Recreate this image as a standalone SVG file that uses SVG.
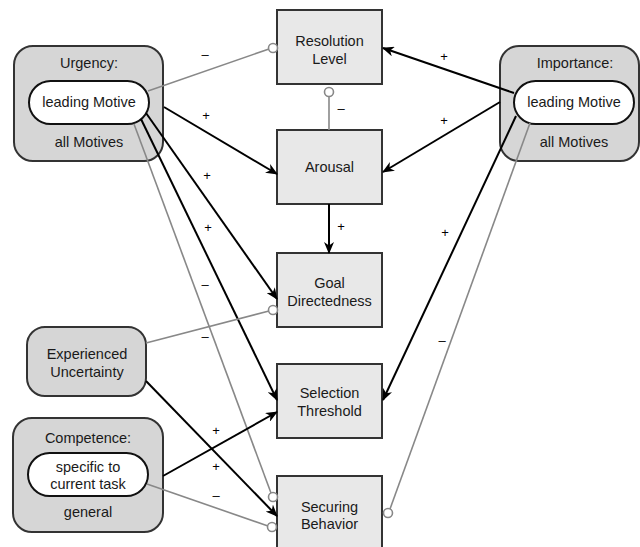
<svg xmlns="http://www.w3.org/2000/svg" width="640" height="547" viewBox="0 0 640 547">
<style>
text{font-family:"Liberation Sans",Arial,sans-serif;font-size:14.5px;fill:#1a1a1a;text-anchor:middle}
.box{fill:#e8e8e8;stroke:#333;stroke-width:2}
.grp{fill:#d6d6d6;stroke:#333;stroke-width:2}
.pill{fill:#fff;stroke:#111;stroke-width:2}
.pos{stroke:#000;stroke-width:2;fill:none;marker-end:url(#ah)}
.neg{stroke:#888;stroke-width:1.6;fill:none}
.dot{fill:#fff;stroke:#888;stroke-width:1.6}
.lbl{font-size:13px;fill:#000}
</style>
<defs>
<marker id="ah" viewBox="0 0 12 10" refX="11" refY="5" markerWidth="12" markerHeight="10" markerUnits="userSpaceOnUse" orient="auto">
<path d="M0,0 L12,5 L0,10 L3.5,5 z" fill="#000"/>
</marker>
</defs>
<g id="resolution">
<rect class="box" x="277" y="10" width="105" height="74"/>
<text x="329.5" y="46">Resolution</text>
<text x="329.5" y="64">Level</text>
</g>
<g id="arousal">
<rect class="box" x="277" y="130" width="105" height="74"/>
<text x="329.5" y="172">Arousal</text>
</g>
<g id="goal">
<rect class="box" x="277" y="253" width="105" height="74"/>
<text x="329.5" y="288">Goal</text>
<text x="329.5" y="306">Directedness</text>
</g>
<g id="selection">
<rect class="box" x="277" y="364" width="105" height="74"/>
<text x="329.5" y="398">Selection</text>
<text x="329.5" y="416">Threshold</text>
</g>
<g id="securing">
<rect class="box" x="277" y="476" width="105" height="74"/>
<text x="329.5" y="512">Securing</text>
<text x="329.5" y="529">Behavior</text>
</g>
<g id="urgency">
<rect class="grp" x="14" y="46" width="149" height="115" rx="19"/>
<text x="89" y="68">Urgency:</text>
<rect class="pill" x="29" y="81" width="120" height="43" rx="21.5"/>
<text x="89" y="107">leading Motive</text>
<text x="89" y="147">all Motives</text>
</g>
<g id="importance">
<rect class="grp" x="500" y="46" width="139" height="115" rx="19"/>
<text x="575" y="68">Importance:</text>
<rect class="pill" x="514" y="81" width="120" height="43" rx="21.5"/>
<text x="574" y="107">leading Motive</text>
<text x="574" y="147">all Motives</text>
</g>
<g id="uncertainty">
<rect class="grp" x="27" y="327" width="119" height="69" rx="18"/>
<text x="87" y="359">Experienced</text>
<text x="87" y="377">Uncertainty</text>
</g>
<g id="competence">
<rect class="grp" x="13" y="418" width="150" height="114" rx="19"/>
<text x="88" y="443">Competence:</text>
<rect class="pill" x="28" y="453" width="120" height="43" rx="21.5"/>
<text x="88" y="472">specific to</text>
<text x="88" y="489">current task</text>
<text x="88" y="517">general</text>
</g>
<g id="connectors">
<line class="neg" x1="148" y1="91" x2="269" y2="49"/>
<circle class="dot" cx="273" cy="48" r="4.5"/>
<line class="neg" x1="329" y1="96.5" x2="329" y2="130"/>
<circle class="dot" cx="329" cy="92" r="4.5"/>
<line class="pos" x1="164" y1="107" x2="277" y2="174"/>
<line class="pos" x1="146" y1="113" x2="277" y2="299"/>
<line class="pos" x1="141" y1="119" x2="277" y2="400"/>
<line class="neg" x1="134" y1="124" x2="271" y2="493"/>
<circle class="dot" cx="273" cy="497" r="4.5"/>
<line class="pos" x1="329" y1="204" x2="329" y2="253"/>
<line class="neg" x1="146" y1="343" x2="269" y2="311"/>
<circle class="dot" cx="273" cy="310" r="4.5"/>
<line class="pos" x1="146" y1="381" x2="277" y2="516"/>
<line class="pos" x1="163" y1="476" x2="277" y2="412"/>
<line class="neg" x1="147" y1="484" x2="268" y2="526"/>
<circle class="dot" cx="272" cy="527" r="4.5"/>
<line class="pos" x1="514" y1="93" x2="383" y2="48"/>
<line class="pos" x1="500" y1="102" x2="383" y2="172"/>
<line class="pos" x1="516" y1="116" x2="383" y2="400"/>
<line class="neg" x1="530" y1="123" x2="390" y2="509"/>
<circle class="dot" cx="388" cy="513" r="4.5"/>
<text class="lbl" x="205" y="59">–</text>
<text class="lbl" x="206" y="120">+</text>
<text class="lbl" x="207" y="180">+</text>
<text class="lbl" x="208" y="232">+</text>
<text class="lbl" x="205" y="289">–</text>
<text class="lbl" x="205" y="341">–</text>
<text class="lbl" x="341" y="113">–</text>
<text class="lbl" x="341" y="231">+</text>
<text class="lbl" x="444" y="61">+</text>
<text class="lbl" x="444" y="125">+</text>
<text class="lbl" x="445" y="237">+</text>
<text class="lbl" x="442" y="345">–</text>
<text class="lbl" x="216" y="435">+</text>
<text class="lbl" x="216" y="471">+</text>
<text class="lbl" x="216" y="500">–</text>
</g>
</svg>
